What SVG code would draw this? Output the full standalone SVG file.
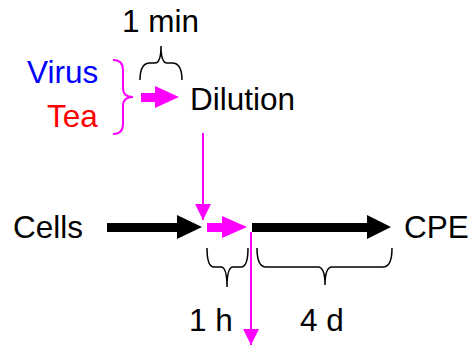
<svg xmlns="http://www.w3.org/2000/svg" width="474" height="348" viewBox="0 0 474 348">
<style>
text{font-family:"Liberation Sans",Arial,sans-serif;font-size:31.5px;fill:#000}
.brk{fill:none;stroke:#000;stroke-width:1.5}
.mbrk{fill:none;stroke:#ff00ff;stroke-width:2}
.mag{fill:#ff00ff}
.blk{fill:#000}
.mline{stroke:#ff00ff;stroke-width:2;fill:none}
</style>
<defs>
<marker id="mh" viewBox="0 0 16 16" refX="16" refY="8" markerWidth="16" markerHeight="16" markerUnits="userSpaceOnUse" orient="auto">
<path d="M0,0 L16,8 L0,16 Z" fill="#ff00ff"/>
</marker>
</defs>
<rect width="474" height="348" fill="#fff"/>
<g id="label-1min"><text x="122" y="32">1 min</text></g>
<g id="virus"><text x="27" y="83" style="fill:#0000ff">Virus</text></g>
<g id="tea"><text x="47" y="127" style="fill:#ff0000">Tea</text></g>
<g id="dilution"><text x="190" y="110">Dilution</text></g>
<g id="cells"><text x="13" y="238">Cells</text></g>
<g id="cpe"><text x="404" y="238">CPE</text></g>
<g id="label-1h"><text x="189" y="331">1 h</text></g>
<g id="label-4d"><text x="300" y="331">4 d</text></g>
<g id="brackets">
<path class="mbrk" d="M113,60 Q123,60 123,70 L123,88 Q123,97 133,97 Q123,97 123,106 L123,124 Q123,134 113,134"/>
<path class="brk" d="M140,80 Q140,63 150,63 L155,63 Q161,63 161,46 Q161,63 167,63 L172,63 Q182,63 182,80"/>
<path class="brk" d="M207,248 Q207,267 214,267 L221,267 Q227,267 227,287 Q227,267 233,267 L241,267 Q248,267 248,248"/>
<path class="brk" d="M257,248 Q257,267 266,267 L318,267 Q325,267 325,285 Q325,267 332,267 L383,267 Q392,267 392,248"/>
</g>
<g id="connectors">
<polygon class="mag" points="141,93 155,93 155,86 179,97 155,108 155,102 141,102"/>
<line class="mline" x1="203" y1="133" x2="203" y2="220" marker-end="url(#mh)"/>
<polygon class="blk" points="107,223 177,223 177,215 202,227 177,239 177,232 107,232"/>
<polygon class="mag" points="207,223 222,223 222,216 247,227 222,238 222,232 207,232"/>
<polygon class="blk" points="252,223 367,223 367,215 391,227 367,239 367,232 252,232"/>
<line class="mline" x1="251" y1="232" x2="251" y2="345" marker-end="url(#mh)"/>
</g>
</svg>
